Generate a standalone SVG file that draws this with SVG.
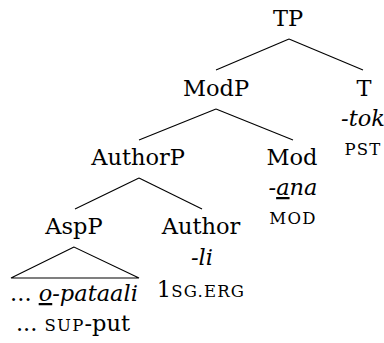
<svg xmlns="http://www.w3.org/2000/svg" width="384" height="343" viewBox="0 0 384 343">
<style>
text{font-family:"DejaVu Serif","Noto Serif",serif;font-size:22.5px;fill:#000;text-anchor:middle}
.i{font-style:italic}
.sc{font-size:16.5px;letter-spacing:1.2px}
.u{text-decoration:underline}
line,polygon{stroke:#000;stroke-width:1.1;fill:none}
</style>
<rect width="384" height="343" fill="#fff"/>
<g id="connectors">
<line x1="289" y1="39" x2="216" y2="70"/>
<line x1="289" y1="39" x2="363" y2="70"/>
<line x1="216" y1="109" x2="139" y2="140"/>
<line x1="216" y1="109" x2="293" y2="140"/>
<line x1="139" y1="178" x2="75" y2="209"/>
<line x1="139" y1="178" x2="202" y2="209"/>
<polygon points="74,247 11,278 139,278"/>
</g>
<g id="TP"><text x="288" y="26">TP</text></g>
<g id="ModP"><text x="216" y="96">ModP</text></g>
<g id="T"><text x="364" y="96">T</text><text class="i" x="363" y="126">-tok</text><text class="sc" x="363" y="155">PST</text></g>
<g id="AuthorP"><text x="138" y="165">AuthorP</text></g>
<g id="Mod"><text x="292" y="165">Mod</text><text class="i" x="293" y="195">-<tspan class="u">a</tspan>na</text><text class="sc" x="293" y="224">MOD</text></g>
<g id="AspP"><text x="74" y="234">AspP</text><text x="74" y="301">... <tspan class="i"><tspan class="u">o</tspan>-pataali</tspan></text><text x="73" y="331">... <tspan class="sc">SUP</tspan>-put</text></g>
<g id="Author"><text x="201" y="234">Author</text><text class="i" x="202" y="265">-li</text><text x="201" y="297">1<tspan class="sc">SG.ERG</tspan></text></g>
</svg>
